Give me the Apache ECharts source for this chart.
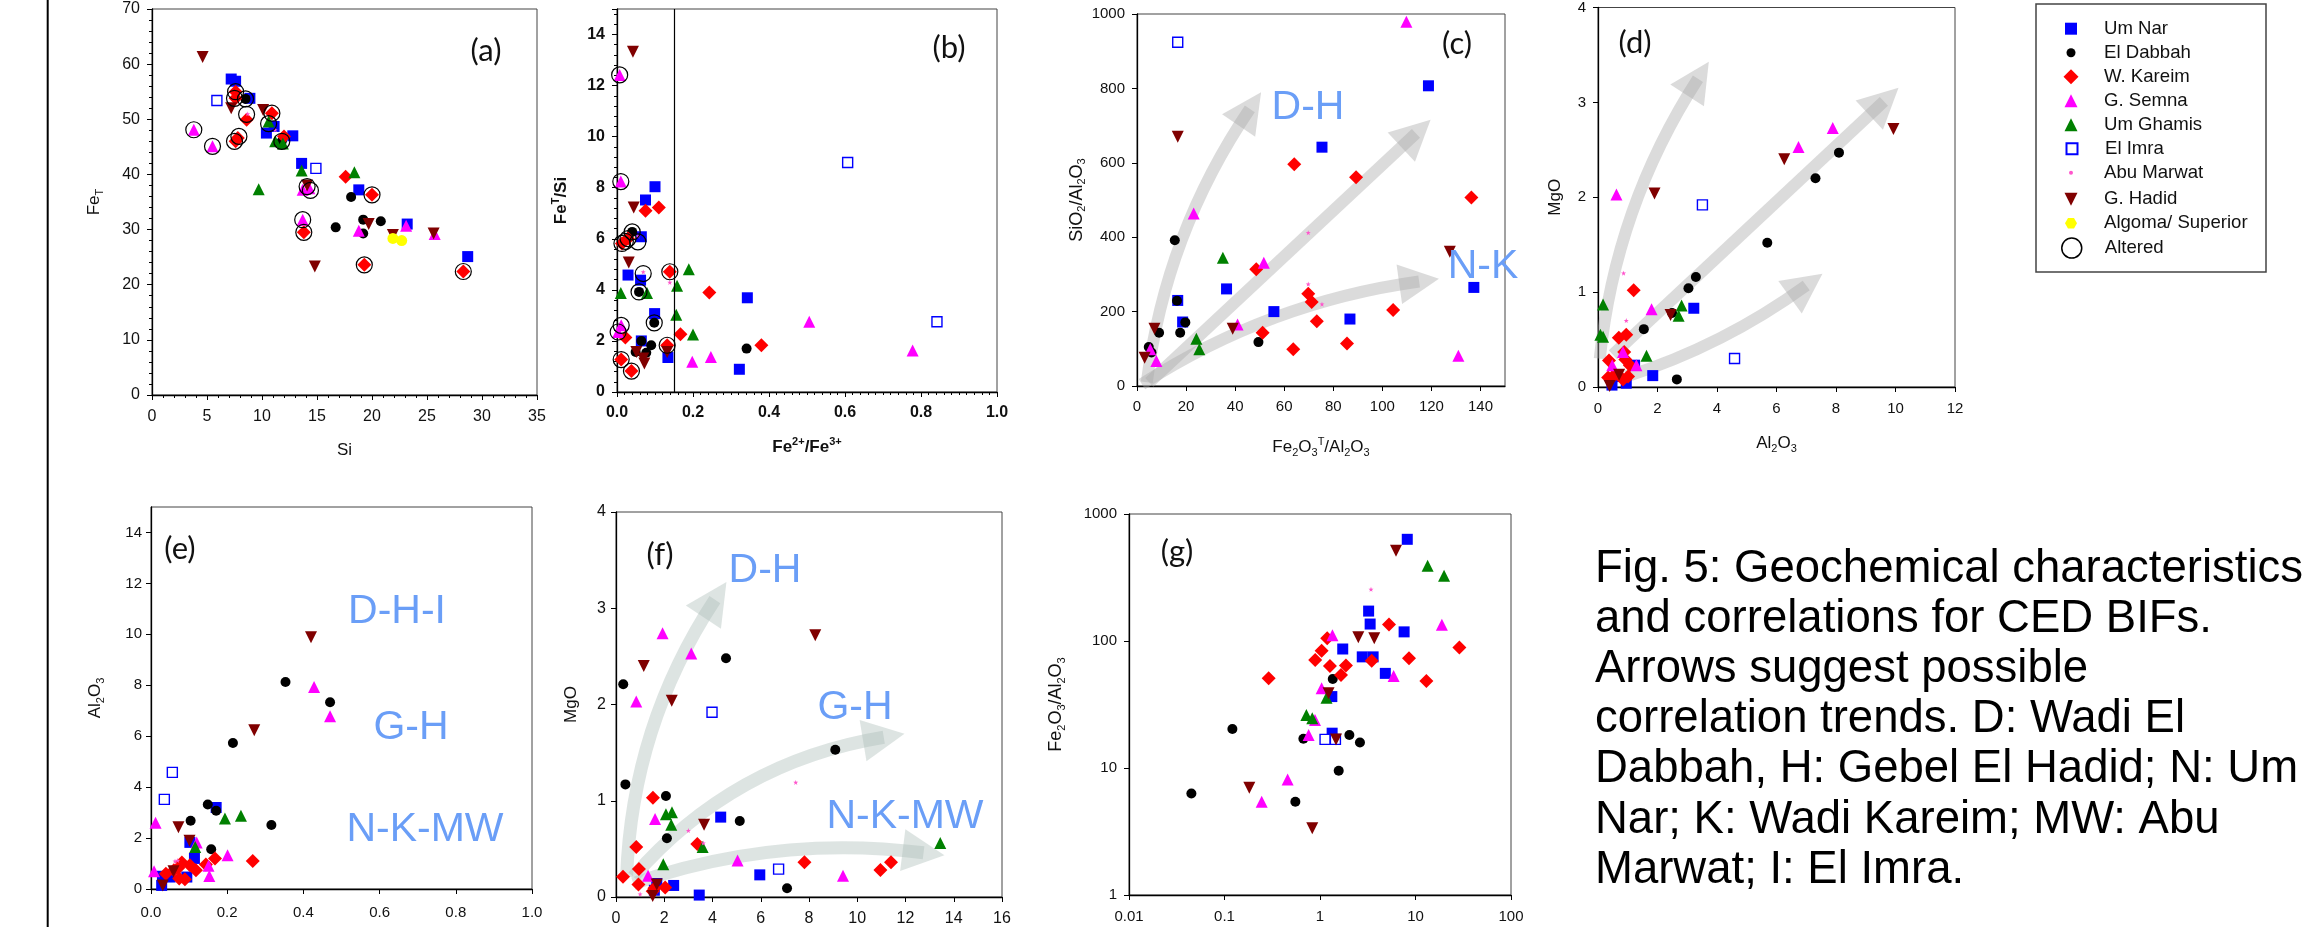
<!DOCTYPE html>
<html><head><meta charset="utf-8">
<script src="https://cdn.jsdelivr.net/npm/echarts@6/dist/echarts.min.js"></script>
<style>html,body{margin:0;padding:0;background:#fff}#c{width:2311px;height:927px}</style>
</head><body><div id="c"></div>
<script>
// ---------------- DATA ----------------
const GROUPS = ['Um Nar','El Dabbah','W. Kareim','G. Semna','Um Ghamis','El Imra','Abu Marwat','G. Hadid','Algoma/ Superior','Altered'];

// (a) Si vs FeT
const aUmNar = [[7.2,57.3],[7.6,56.9],[8.9,53.8],[10.4,47.5],[11.1,48.7],[12.8,47.0],[13.6,42.0],[18.8,37.2],[23.2,31.0],[28.7,25.1]];
const aElDabbah = [[8.5,53.7],[11.8,46.0],[16.7,30.4],[18.1,35.9],[19.2,31.8],[19.2,29.3],[20.8,31.5]];
const aWKareim = [[7.6,55.0],[7.6,53.8],[8.6,49.9],[7.6,46.0],[7.8,46.6],[10.9,51.1],[12.0,46.9],[13.8,29.5],[17.6,39.6],[20.0,36.3],[19.3,23.6],[28.3,22.4]];
const aGSemna = [[3.8,48.1],[5.5,45.1],[13.7,37.2],[13.7,31.8],[14.3,37.5],[18.8,29.8],[23.1,30.7],[25.7,29.2]];
const aUmGhamis = [[9.7,37.3],[10.6,49.6],[11.2,46.0],[11.9,45.6],[13.6,40.7],[18.4,40.4]];
const aElImra = [[5.9,53.4],[14.9,41.1]];
const aAbuMarwat = [[11.2,48.1],[8.7,51.0]];
const aGHadid = [[4.6,61.3],[7.2,52.0],[10.1,51.7],[14.1,38.0],[14.8,23.3],[19.7,31.0],[21.9,29.0],[25.6,29.3]];
const aAlgoma = [[21.9,28.4],[22.7,28.0]];
const aAltered = [[3.8,48.1],[5.5,45.1],[7.6,55.0],[7.5,53.8],[8.6,50.9],[8.5,53.7],[7.9,46.9],[7.5,46.0],[10.6,49.2],[10.9,51.1],[11.8,46.0],[13.7,31.8],[13.8,29.5],[14.1,37.8],[14.4,37.1],[20.0,36.3],[19.3,23.6],[28.3,22.4]];

// (b) Fe2+/Fe3+ vs FeT/Si
const bUmNar = [[0.100,8.04],[0.075,7.52],[0.064,6.08],[0.029,4.58],[0.062,4.38],[0.099,3.07],[0.064,2.00],[0.134,1.35],[0.322,0.89],[0.343,3.69]];
const bElDabbah = [[0.040,6.27],[0.058,3.92],[0.098,2.71],[0.090,1.83],[0.049,1.57],[0.077,1.54],[0.341,1.70],[0.064,2.00]];
const bWKareim = [[0.075,7.10],[0.110,7.23],[0.013,5.82],[0.029,6.01],[0.139,4.71],[0.011,1.27],[0.038,0.82],[0.022,2.13],[0.132,1.83],[0.243,3.90],[0.167,2.26],[0.380,1.83]];
const bGSemna = [[0.007,12.42],[0.010,8.24],[0.011,2.61],[0.003,2.35],[0.198,1.18],[0.247,1.37],[0.506,2.75],[0.778,1.63]];
const bUmGhamis = [[0.010,3.88],[0.079,3.88],[0.189,4.81],[0.158,4.16],[0.156,3.03],[0.200,2.25]];
const bElImra = [[0.607,8.99],[0.842,2.75]];
const bAbuMarwat = [[0.139,4.29],[0.069,4.70],[0.055,6.10]];
const bGHadid = [[0.042,13.33],[0.044,7.23],[0.031,5.07],[0.051,1.57],[0.069,1.31],[0.072,1.12],[0.132,1.57]];
const bAlgoma = [];
const bAltered = [[0.007,12.42],[0.010,8.24],[0.040,6.27],[0.029,6.01],[0.022,5.90],[0.055,5.88],[0.013,5.82],[0.069,4.64],[0.058,3.92],[0.139,4.71],[0.098,2.71],[0.011,2.61],[0.003,2.35],[0.132,1.83],[0.011,1.27],[0.038,0.82]];
const bThreshold = 0.15;

// (c) Fe2O3T/Al2O3 vs SiO2/Al2O3
const cUmNar = [[118.8,807],[75.4,642],[36.5,261],[55.8,200],[86.8,180],[137.3,265],[16.6,230],[18.6,172]];
const cElDabbah = [[15.4,392],[16.3,229],[9.0,143],[19.7,171],[17.6,143],[4.8,105],[5.9,90],[49.5,118]];
const cWKareim = [[64.1,596],[89.3,561],[136.3,507],[48.6,314],[69.8,248],[71.2,226],[73.3,174],[104.4,204],[85.6,114],[63.7,99],[51.2,143]];
const cGSemna = [[109.8,979],[23.1,464],[51.7,331],[41.0,165],[5.4,99],[7.9,67],[131.0,81]];
const cUmGhamis = [[35.0,345],[24.2,127],[25.4,99]];
const cElImra = [[16.6,924]];
const cAbuMarwat = [[69.8,412],[69.8,274],[75.4,220]];
const cGHadid = [[16.6,670],[7.1,154],[3.1,76],[39.0,154],[127.5,361]];

// (d) Al2O3 vs MgO
const dUmNar = [[3.22,0.83],[1.84,0.12],[1.23,0.23],[0.47,0.02],[0.95,0.04],[0.62,0.11]];
const dElDabbah = [[8.10,2.47],[7.31,2.20],[5.69,1.52],[3.29,1.16],[3.04,1.04],[2.49,0.78],[1.54,0.61],[2.65,0.08]];
const dWKareim = [[1.20,1.02],[0.70,0.52],[0.95,0.55],[0.37,0.28],[0.92,0.29],[1.07,0.23],[0.34,0.10],[0.56,0.13],[0.84,0.08],[1.01,0.11],[0.88,0.37]];
const dGSemna = [[0.62,2.03],[7.89,2.73],[6.74,2.53],[1.80,0.82],[0.84,0.37],[0.48,0.23],[1.29,0.23]];
const dUmGhamis = [[0.17,0.87],[0.08,0.55],[0.17,0.53],[1.63,0.33],[2.81,0.86],[2.71,0.75]];
const dElImra = [[3.51,1.92],[4.59,0.30]];
const dAbuMarwat = [[0.86,1.20],[0.95,0.70]];
const dGHadid = [[6.26,2.40],[9.93,2.72],[1.90,2.04],[2.44,0.76],[0.39,0.01],[0.71,0.13]];

// (e) ? vs Al2O3
const eUmNar = [[0.171,3.20],[0.102,1.83],[0.114,1.20],[0.094,0.47],[0.028,0.14],[0.050,0.47],[0.030,0.50]];
const eElDabbah = [[0.353,8.13],[0.470,7.33],[0.215,5.73],[0.149,3.32],[0.171,3.07],[0.104,2.68],[0.316,2.51],[0.158,1.56]];
const eWKareim = [[0.267,1.10],[0.168,1.20],[0.144,0.96],[0.118,0.74],[0.102,0.93],[0.081,1.04],[0.072,0.83],[0.074,0.41],[0.089,0.38],[0.039,0.60],[0.060,0.74]];
const eGSemna = [[0.428,7.93],[0.470,6.78],[0.012,2.60],[0.120,1.83],[0.201,1.33],[0.151,0.91],[0.153,0.51],[0.008,0.70]];
const eUmGhamis = [[0.194,2.77],[0.236,2.88],[0.116,1.65]];
const eElImra = [[0.056,4.58],[0.035,3.52]];
const eAbuMarwat = [[0.063,1.09],[0.070,1.12]];
const eGHadid = [[0.420,9.89],[0.271,6.23],[0.072,2.42],[0.101,1.89],[0.031,0.14],[0.059,0.70]];

// (f) ? vs MgO
const fUmNar = [[4.34,0.83],[5.96,0.23],[2.39,0.12],[3.45,0.02],[1.69,0.14],[1.59,0.07]];
const fElDabbah = [[0.30,2.21],[0.39,1.17],[4.56,2.48],[9.09,1.53],[2.07,1.05],[2.11,0.61],[5.13,0.79],[7.09,0.09]];
const fWKareim = [[1.53,1.03],[0.84,0.52],[0.29,0.21],[0.95,0.29],[0.93,0.13],[3.37,0.55],[7.81,0.36],[10.96,0.28],[11.40,0.36],[1.59,0.09],[2.04,0.10],[1.52,0.06]];
const fGSemna = [[1.93,2.74],[3.12,2.53],[0.84,2.03],[1.62,0.81],[5.04,0.38],[9.41,0.22],[1.33,0.22]];
const fUmGhamis = [[2.07,0.86],[2.32,0.88],[2.29,0.75],[3.59,0.52],[1.96,0.34],[13.44,0.56]];
const fElImra = [[3.98,1.92],[6.74,0.29]];
const fAbuMarwat = [[7.45,1.19],[3.00,0.69],[3.62,0.56],[1.00,0.03]];
const fGHadid = [[1.15,2.40],[2.31,2.04],[8.26,2.72],[3.65,0.75],[1.69,0.13],[1.52,0.01]];

// (g) log-log vs Fe2O3/Al2O3
const gUmNar = [[8.2,632],[3.23,172],[3.35,136],[7.6,118],[1.73,86.5],[2.77,75],[3.6,75],[4.83,55.6],[1.33,36.5],[1.34,18.8]];
const gElDabbah = [[0.045,6.3],[0.121,20.3],[0.552,5.43],[0.67,17.0],[1.36,50.2],[1.57,9.5],[2.03,18.2],[2.62,15.9]];
const gWKareim = [[0.29,50.8],[0.89,70.8],[1.04,83.9],[1.19,105],[1.27,63.6],[1.66,54],[1.87,64],[3.48,70],[5.28,135],[8.55,73],[13.0,48.4],[28.8,88.7]];
const gGSemna = [[0.245,5.43],[0.458,8.1],[0.76,18.2],[0.887,23.9],[1.04,42.4],[1.35,111],[5.9,53],[18.9,134]];
const gUmGhamis = [[13.4,392],[19.9,327],[0.72,26.1],[0.83,24.6],[1.17,35.8]];
const gElImra = [[1.13,16.8],[1.45,16.8]];
const gAbuMarwat = [[3.42,255]];
const gGHadid = [[0.182,7.0],[0.83,3.35],[6.25,514],[2.52,107],[3.7,105],[1.23,38.7],[1.47,16.8]];

// trend arrows (data units)
const cArrows = [{from:[4,10],to:[46,745],curve:0.12},{from:[5,10],to:[113.7,679],curve:0},{from:[2,5],to:[115,281],curve:0.11}];
const dArrows = [{from:[0.06,0.30],to:[3.36,3.25],curve:0.12},{from:[0.5,0.34],to:[9.61,3.01],curve:0},{from:[0.95,0.11],to:[7.0,1.07],curve:-0.08}];
const fArrows = [{from:[0.44,0.21],to:[4.1,3.09],curve:0.14},{from:[0.72,0.21],to:[11.1,1.66],curve:0.18},{from:[0.72,0.14],to:[12.75,0.46],curve:0.117}];

const CAPTION = ['Fig. 5: Geochemical characteristics','and correlations for CED BIFs.','Arrows suggest possible','correlation trends. D: Wadi El','Dabbah, H: Gebel El Hadid; N: Um','Nar; K: Wadi Kareim; MW: Abu','Marwat; I: El Imra.'];

// ---------------- BUILD ----------------
const DATA = {
  a:[aUmNar,aElDabbah,aWKareim,aGSemna,aUmGhamis,aElImra,aAbuMarwat,aGHadid,aAlgoma,aAltered],
  b:[bUmNar,bElDabbah,bWKareim,bGSemna,bUmGhamis,bElImra,bAbuMarwat,bGHadid,bAlgoma,bAltered],
  c:[cUmNar,cElDabbah,cWKareim,cGSemna,cUmGhamis,cElImra,cAbuMarwat,cGHadid,[],[]],
  d:[dUmNar,dElDabbah,dWKareim,dGSemna,dUmGhamis,dElImra,dAbuMarwat,dGHadid,[],[]],
  e:[eUmNar,eElDabbah,eWKareim,eGSemna,eUmGhamis,eElImra,eAbuMarwat,eGHadid,[],[]],
  f:[fUmNar,fElDabbah,fWKareim,fGSemna,fUmGhamis,fElImra,fAbuMarwat,fGHadid,[],[]],
  g:[gUmNar,gElDabbah,gWKareim,gGSemna,gUmGhamis,gElImra,gAbuMarwat,gGHadid,[],[]]
};
const ARROWS = {c:cArrows, d:dArrows, f:fArrows};

const FONT = "'Liberation Sans', Arial, sans-serif";
const STAR = 'path://M0,-10L2.35,-3.24L9.51,-3.09L3.8,1.24L5.88,8.09L0,4L-5.88,8.09L-3.8,1.24L-9.51,-3.09L-2.35,-3.24Z';
const HEX = 'path://M5,0L15,0L20,8.66L15,17.32L5,17.32L0,8.66Z';
const DOWN_TRI = 'path://M0,0L10,0L5,10Z';
const STY = {
  'Um Nar':{symbol:'rect',size:11,color:'#0000ff'},
  'El Dabbah':{symbol:'circle',size:10,color:'#000000'},
  'W. Kareim':{symbol:'diamond',size:14,color:'#ff0000'},
  'G. Semna':{symbol:'triangle',size:12,color:'#ff00ff'},
  'Um Ghamis':{symbol:'triangle',size:12,color:'#008000'},
  'El Imra':{symbol:'rect',size:10,color:'#ffffff',border:'#0000ff',bw:1.4},
  'Abu Marwat':{symbol:STAR,size:5,color:'#ff55cc'},
  'G. Hadid':{symbol:'triangle',size:12,color:'#800000',rotate:180},
  'Algoma/ Superior':{symbol:'circle',size:11,color:'#ffff00'},
  'Altered':{symbol:'circle',size:16,color:'rgba(0,0,0,0)',border:'#000000',bw:1.2}
};

const SUBRICH = {
  s:{fontSize:11,verticalAlign:'bottom',lineHeight:22},
  p:{fontSize:11,verticalAlign:'top',lineHeight:22}
};
const fmt1 = v => v.toFixed(1);
const fmtPlain = v => String(+v.toPrecision(6));
const PANELS = [
  {key:'a',grid:{left:152,top:9,width:385,height:386},fs:16,
   x:{min:0,max:35,interval:5,minor:5,name:'Si',gap:44,margin:14},
   y:{min:0,max:70,interval:10,minor:5,name:'Fe{s|T}',gap:47,margin:12}},
  {key:'b',grid:{left:617,top:9,width:380,height:383},fs:16,fw:'bold',
   x:{min:0,max:1,interval:0.2,minor:10,name:'Fe{p|2+}/Fe{p|3+}',gap:44,margin:13,fmt:fmt1},
   y:{min:0,max:15,interval:2,minor:5,name:'Fe{p|T}/Si',gap:45,margin:12,hideMax:true}},
  {key:'c',grid:{left:1137,top:14,width:368,height:372},fs:15,
   x:{min:0,max:150,interval:20,name:'Fe{s|2}O{s|3}{p|T}/Al{s|2}O{s|3}',gap:50,margin:13,hideMax:true,nfs:17},
   y:{min:0,max:1000,interval:200,name:'SiO{s|2}/Al{s|2}O{s|3}',gap:40,margin:12,nfs:18,fmt:fmtPlain}},
  {key:'d',grid:{left:1598,top:5,width:357,height:382},fs:15,
   x:{min:0,max:12,interval:2,name:'Al{s|2}O{s|3}',gap:45,margin:14},
   y:{min:0,max:4,interval:1,name:'MgO',gap:32,margin:12,nfs:17}},
  {key:'e',grid:{left:151,top:507,width:381,height:382},fs:15,
   x:{min:0,max:1,interval:0.2,name:'',gap:40,margin:16,fmt:fmt1},
   y:{min:0,max:15,interval:2,name:'Al{s|2}O{s|3}',gap:45,margin:9,hideMax:true}},
  {key:'f',grid:{left:616,top:512,width:386,height:385},fs:16,
   x:{min:0,max:16,interval:2,name:'',gap:40,margin:14},
   y:{min:0,max:4,interval:1,name:'MgO',gap:34,margin:10,nfs:17}},
  {key:'g',grid:{left:1129,top:514,width:382,height:381},fs:15,
   x:{log:true,min:0.01,max:100,name:'',gap:40,margin:14,fmt:fmtPlain},
   y:{log:true,min:1,max:1000,name:'Fe{s|2}O{s|3}/Al{s|2}O{s|3}',gap:62,margin:12,nfs:18,fmt:fmtPlain}}
];
const ARROW_STYLE = {
  c:{color:'rgba(170,170,170,0.42)',width:12,head:40},
  d:{color:'rgba(170,170,170,0.42)',width:12,head:40},
  f:{color:'rgba(175,190,186,0.42)',width:13,head:42}
};
const LETTERS = [['(a)',486,51],['(b)',949,48],['(c)',1457,44],['(d)',1635,43],['(e)',180,549],['(f)',660,555],['(g)',1177,552]];
const TREND_LABELS = [['D-H',1308,108],['N-K',1483,267],['D-H-I',397,612],['G-H',411,728],['N-K-MW',425,830],['D-H',765,571],['G-H',855,708],['N-K-MW',905,817]];

function mkAxis(cfg, isX, i, p) {
  const ax = {
    gridIndex:i, type: cfg.log ? 'log' : 'value', min:cfg.min, max:cfg.max,
    splitLine:{show:false},
    axisLine:{show:true,onZero:false,lineStyle:{color:'#000',width:1.3}},
    axisTick:{show:true,inside:false,length:5,lineStyle:{color:'#000',width:1}},
    axisLabel:{fontFamily:FONT,fontSize:p.fs,fontWeight:p.fw||'normal',color:'#111',margin:cfg.margin},
    name:cfg.name, nameLocation:'middle', nameGap:cfg.gap, nameRotate: isX ? 0 : 90,
    nameTextStyle:{fontFamily:FONT,fontSize:cfg.nfs||17,fontWeight:p.fw||'normal',color:'#111',lineHeight:22,
      rich:{s:Object.assign({},SUBRICH.s,{fontWeight:p.fw||'normal'}),p:Object.assign({},SUBRICH.p,{fontWeight:p.fw||'normal'})}}
  };
  if (cfg.hideMax) ax.axisLabel.showMaxLabel = false;
  if (cfg.fmt) ax.axisLabel.formatter = cfg.fmt;
  if (cfg.interval) ax.interval = cfg.interval;
  if (cfg.log) ax.logBase = 10;
  if (cfg.minor) ax.minorTick = {show:true,splitNumber:cfg.minor,length:3,lineStyle:{color:'#000',width:1}};
  return ax;
}

const grids = [], xAxes = [], yAxes = [], series = [];
PANELS.forEach((p, i) => {
  grids.push(Object.assign({show:true,borderColor:'#444',borderWidth:1,backgroundColor:'transparent'}, p.grid));
  xAxes.push(mkAxis(p.x, true, i, p));
  yAxes.push(mkAxis(p.y, false, i, p));
  if (ARROWS[p.key]) {
    const st = ARROW_STYLE[p.key];
    series.push({type:'lines',coordinateSystem:'cartesian2d',xAxisIndex:i,yAxisIndex:i,z:1,silent:true,animation:false,
      symbol:['none','triangle'],symbolSize:st.head,
      lineStyle:{color:st.color,width:st.width,opacity:1},
      data:ARROWS[p.key].map(a => ({coords:[a.from,a.to],lineStyle:{curveness:a.curve}}))});
  }
  GROUPS.forEach((g, k) => {
    const pts = DATA[p.key][k];
    if (!pts || !pts.length) return;
    const s = STY[g];
    const ser = {type:'scatter',name:g,xAxisIndex:i,yAxisIndex:i,data:pts,silent:true,animation:false,
      symbol:s.symbol,symbolSize:s.size,symbolRotate:s.rotate||0,z: g==='Altered'?4:3,
      itemStyle:{color:s.color,borderColor:s.border||s.color,borderWidth:s.bw||0,opacity:1}};
    if (p.key==='b' && k===0) {
      ser.markLine = {silent:true,symbol:'none',animation:false,label:{show:false},
        lineStyle:{color:'#000',width:1.2,type:'solid'},data:[{xAxis:bThreshold}]};
    }
    series.push(ser);
  });
});

// legend: one per row so that each icon keeps its own size
const LEG_Y = [28.7,52.7,76.7,100.7,124.7,148.7,172.7,199.3,223.3,247.3];
const LEG_SIZE = [12,9,15,13,13,11,4,13,12,20];
const LEG_ICON = {
  'Um Nar':{icon:'rect',itemStyle:{color:'#0000ff'}},
  'El Dabbah':{icon:'circle',itemStyle:{color:'#000'}},
  'W. Kareim':{icon:'diamond',itemStyle:{color:'#ff0000'}},
  'G. Semna':{icon:'triangle',itemStyle:{color:'#ff00ff'}},
  'Um Ghamis':{icon:'triangle',itemStyle:{color:'#008000'}},
  'El Imra':{icon:'rect',itemStyle:{color:'#fff',borderColor:'#0000ff',borderWidth:2}},
  'Abu Marwat':{icon:'circle',itemStyle:{color:'#ff55cc'}},
  'G. Hadid':{icon:DOWN_TRI,itemStyle:{color:'#800000'}},
  'Algoma/ Superior':{icon:HEX,itemStyle:{color:'#ffff00'}},
  'Altered':{icon:'circle',itemStyle:{color:'rgba(0,0,0,0)',borderColor:'#000',borderWidth:1.5}}
};
const legends = GROUPS.map((g, k) => {
  const h = LEG_SIZE[k];
  const it = LEG_ICON[g];
  const d = {name:g,icon:it.icon,itemStyle:Object.assign({borderWidth:0},it.itemStyle)};
  return {show:true,data:[d],left:2071 - h/2,top:LEG_Y[k] - 10,orient:'vertical',
    itemWidth:h,itemHeight:h,padding:0,selectedMode:false,symbolRotate:0,
    textStyle:{fontFamily:FONT,fontSize:18.6,color:'#111',lineHeight:20,padding:[0,0,0,28 - h/2]}};
});

const graphics = [
  {type:'line',shape:{x1:47.7,y1:0,x2:47.7,y2:927},style:{stroke:'#000',lineWidth:2},silent:true},
  {type:'rect',shape:{x:2036,y:4,width:230,height:268},style:{fill:'none',stroke:'#444',lineWidth:1.5},silent:true},
  {type:'text',x:1595,y:544,silent:true,style:{text:CAPTION.join('\n'),font:"45.5px 'Liberation Sans', Arial, sans-serif",lineHeight:50.2,fill:'#000',align:'left',verticalAlign:'top'}}
];
LETTERS.forEach(([t,x,y]) => graphics.push({type:'text',x:x,y:y,silent:true,z:10,
  style:{text:t,font:"31px Lato, 'Open Sans', sans-serif",fill:'#111',align:'center',verticalAlign:'middle'}}));
TREND_LABELS.forEach(([t,x,y]) => graphics.push({type:'text',x:x,y:y,silent:true,z:10,
  style:{text:t,font:"41px 'Liberation Sans', Arial, sans-serif",fill:'#6a9ef7',align:'center',verticalAlign:'middle'}}));

const chart = echarts.init(document.getElementById('c'), null, {renderer:'canvas'});
chart.setOption({
  animation:false, backgroundColor:'#fff',
  grid:grids, xAxis:xAxes, yAxis:yAxes, series:series, legend:legends, graphic:graphics
});
</script></body></html>
